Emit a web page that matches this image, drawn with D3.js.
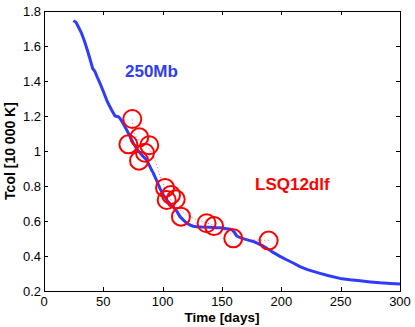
<!DOCTYPE html>
<html><head><meta charset="utf-8">
<script src="https://cdn.jsdelivr.net/npm/d3@7"></script>
<style>html,body{margin:0;padding:0;background:#fff;}svg{display:block;font-family:"Liberation Sans",Arial,Helvetica,sans-serif;}</style>
</head><body>
<svg id="c" width="415" height="327"></svg>
<script>
// Blue model curve (days, Tcol)
const modelDays = [24.8,27,28.9,31.7,34,36.5,39,41,43,45,47.2,50,52.8,55,57,59.8,62.6,64,66,69.7,72,75.3,79,83.7,86.5,90.7,92,95,97.8,100.5,103.4,106,109,112,114.6,117.5,120.2,123,125.8,128.5,131.5,135,140,145,148.3,151.1,154,158.2,160.5,162.4,163.7,166,170,173.6,176.4,180,184.8,187.6,192,198.9,204,210,215.7,222,232.6,240,249.4,258,266.3,275,283.1,292,300];
const modelTcol = [1.745,1.735,1.71,1.672,1.63,1.577,1.52,1.472,1.453,1.42,1.387,1.34,1.291,1.26,1.234,1.2,1.196,1.187,1.165,1.12,1.09,1.044,1.005,0.967,0.949,0.891,0.875,0.83,0.785,0.75,0.72,0.70,0.68,0.655,0.625,0.605,0.588,0.577,0.570,0.567,0.566,0.565,0.564,0.562,0.561,0.559,0.556,0.551,0.535,0.515,0.51,0.503,0.495,0.488,0.483,0.472,0.456,0.445,0.425,0.398,0.38,0.36,0.339,0.322,0.301,0.287,0.272,0.264,0.258,0.252,0.247,0.243,0.24];
// Observations (circles)
const obsDays = [74.4,80.3,71.1,88.7,85.1,80.1,102,107,103.4,111,115.4,137,143.3,159.5,189.3];
const obsTcol = [1.183,1.078,1.038,1.033,0.99,0.945,0.789,0.749,0.72,0.724,0.625,0.587,0.571,0.501,0.488];
// Red dotted fit
const fitDays = [74.4,75,77,80,85,89,92,95,97.5,100,103,107,111,115,120,126,132,137,143,150,157,163,170,178,185,190];
const fitTcol = [1.18,1.13,1.09,1.06,1.03,1.01,0.97,0.92,0.86,0.82,0.77,0.72,0.69,0.66,0.635,0.615,0.60,0.59,0.575,0.555,0.53,0.51,0.497,0.492,0.49,0.49];
const xTicks = [0,50,100,150,200,250,300];
const yTicks = [0.2,0.4,0.6,0.8,1,1.2,1.4,1.6,1.8];

const svg = d3.select("#c");
const L=44,R=400,T=11,B=291;
const x = d3.scaleLinear().domain([0,300]).range([L,R]);
const y = d3.scaleLinear().domain([0.2,1.8]).range([B,T]);

svg.append("rect").attr("width",415).attr("height",327).attr("fill","#fff");

svg.append("clipPath").attr("id","cp").append("rect")
  .attr("x",L).attr("y",T).attr("width",R-L).attr("height",B-T);

const g = svg.append("g").attr("clip-path","url(#cp)");

// blue curve
g.append("path").datum(modelDays.map((d,i)=>[d,modelTcol[i]]))
  .attr("d",d3.line().x(d=>x(d[0])).y(d=>y(d[1])))
  .attr("fill","none").attr("stroke","#2f3cff").attr("stroke-width",3).attr("stroke-linejoin","round");

// dotted fit
g.append("path").datum(fitDays.map((d,i)=>[d,fitTcol[i]]))
  .attr("d",d3.line().x(d=>x(d[0])).y(d=>y(d[1])))
  .attr("fill","none").attr("stroke","#ff4040").attr("stroke-width",1).attr("stroke-dasharray","1,2.5").attr("opacity",0.8);

// circles
g.selectAll("circle.o").data(obsDays.map((d,i)=>[d,obsTcol[i]])).enter().append("circle")
  .attr("cx",d=>x(d[0])).attr("cy",d=>y(d[1])).attr("r",9)
  .attr("fill","none").attr("stroke","#ff0000").attr("stroke-width",2);

// axes
const fmtY = d=> d===1 ? "1" : d3.format(".1f")(d);
const ax = svg.append("g").attr("font-size",13).attr("fill","#000");
const tl = 4;
xTicks.forEach(t=>{
  const px = Math.round(x(t))+0.5;
  ax.append("line").attr("x1",px).attr("x2",px).attr("y1",B).attr("y2",B-tl).attr("stroke","#000");
  ax.append("line").attr("x1",px).attr("x2",px).attr("y1",T).attr("y2",T+tl).attr("stroke","#000");
  ax.append("text").attr("x",x(t)).attr("y",B+14.5).attr("text-anchor","middle").text(t);
});
yTicks.forEach(t=>{
  const py = Math.round(y(t))+0.5;
  ax.append("line").attr("x1",L).attr("x2",L+tl).attr("y1",py).attr("y2",py).attr("stroke","#000");
  ax.append("line").attr("x1",R).attr("x2",R-tl).attr("y1",py).attr("y2",py).attr("stroke","#000");
  ax.append("text").attr("x",L-3).attr("y",y(t)+4.5).attr("text-anchor","end").text(fmtY(t));
});
svg.append("rect").attr("x",L+0.5).attr("y",T+0.5).attr("width",R-L).attr("height",B-T)
  .attr("fill","none").attr("stroke","#000").attr("stroke-width",1);

// labels
svg.append("text").attr("x",(L+R)/2).attr("y",321.5).attr("text-anchor","middle")
  .attr("font-weight","bold").attr("font-size",13.5).text("Time [days]");
svg.append("text").attr("transform",`translate(15,${(T+B)/2}) rotate(-90)`).attr("text-anchor","middle")
  .attr("font-weight","bold").attr("font-size",14).text("Tcol [10 000 K]");

svg.append("text").attr("x",125).attr("y",77).attr("font-weight","bold").attr("font-size",17)
  .attr("fill","#2f3cff").text("250Mb");
svg.append("text").attr("x",255).attr("y",190).attr("font-weight","bold").attr("font-size",17)
  .attr("fill","#ff0000").text("LSQ12dlf");
</script>
</body></html>
